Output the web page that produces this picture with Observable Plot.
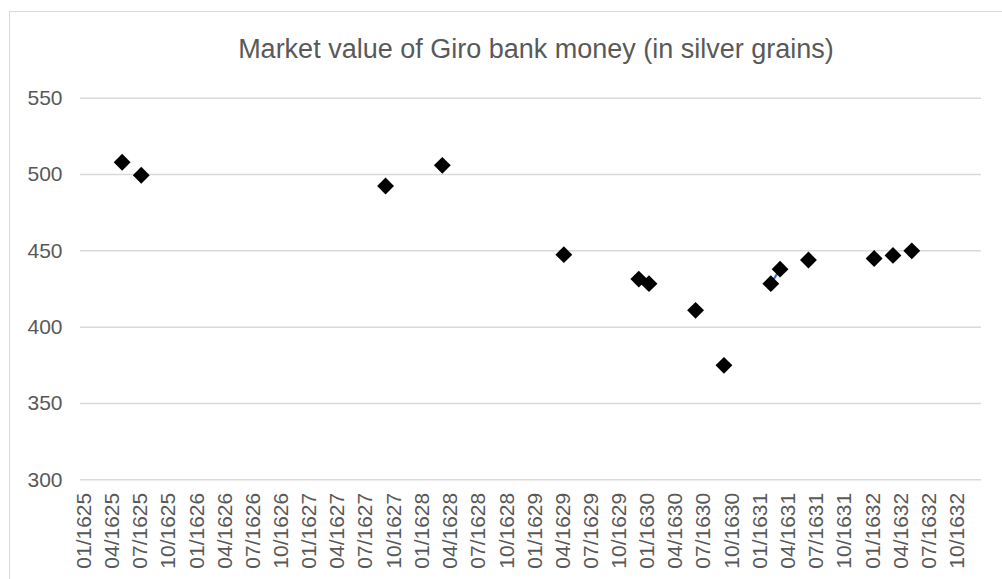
<!DOCTYPE html>
<html><head><meta charset="utf-8">
<script src="https://cdn.jsdelivr.net/npm/d3@7"></script>
<script src="https://cdn.jsdelivr.net/npm/@observablehq/plot@0.6"></script>
<style>
body{margin:0;background:#fff;font-family:"Liberation Sans",Arial,sans-serif;}
#wrap{position:relative;width:1002px;height:579px;overflow:hidden;background:#fff;}
#frame{position:absolute;left:9px;top:11px;width:1100px;height:700px;border:1.5px solid #d9d9d9;box-sizing:border-box;pointer-events:none;}
#title{box-sizing:border-box;width:1002px;height:80px;padding-top:34px;padding-left:70px;text-align:center;font-size:27px;line-height:30px;color:#595959;white-space:nowrap;}
#chart svg{display:block;}
</style>
</head><body>
<div id="wrap"><div id="frame"></div><div id="title"></div><div id="chart"></div></div>
<script>
const title = "Market value of Giro bank money (in silver grains)";
const dates = ["1625-05-03","1625-07-04","1627-09-04","1628-03-06","1629-04-04","1629-12-03","1630-01-05","1630-06-05","1630-09-05","1631-02-04","1631-03-06","1631-06-06","1632-01-05","1632-03-06","1632-05-06"];
const values = [508, 499.5, 492.5, 506, 447.5, 431.5, 428.5, 411, 375, 428.5, 438, 444, 445, 447, 450];
const linked = [false,false,false,false,false,false,false,false,false,true,true,false,false,false,false];
const yTicks = [300, 350, 400, 450, 500, 550];
const xStart = "1624-12-19", xEnd = "1632-12-18";
const tickFirst = "1625-01-01", tickLast = "1633-01-01";

document.getElementById("title").textContent = title;
const data = dates.map((d, i) => ({date: new Date(d), value: values[i], linked: linked[i]}));
const xTicks = d3.utcMonth.every(3).range(new Date(tickFirst), new Date(tickLast));

const chart = Plot.plot({
  width: 1002,
  height: 499,
  marginLeft: 80,
  marginRight: 21,
  marginTop: 17.7,
  marginBottom: 99.7,
  style: {fontFamily: '"Liberation Sans", Arial, sans-serif', background: "transparent"},
  x: {type: "utc", domain: [new Date(xStart), new Date(xEnd)]},
  y: {domain: [300, 550]},
  marks: [
    Plot.ruleY(yTicks, {stroke: "#d9d9d9", strokeWidth: 1.5}),
    Plot.axisY({ticks: yTicks, tickSize: 0, tickPadding: 18, fontSize: 21, color: "#595959", label: null}),
    Plot.axisX({ticks: xTicks, tickFormat: d3.utcFormat("%m/%Y"), tickRotate: -90, tickSize: 0, tickPadding: 13, fontSize: 21, color: "#595959", label: null}),
    Plot.line(data.filter(d => d.linked), {x: "date", y: "value", stroke: "#4472C4", strokeWidth: 2.25}),
    Plot.dot(data, {x: "date", y: "value", symbol: "diamond2", r: 7.6, fill: "#000", stroke: "none"})
  ]
});
document.getElementById("chart").appendChild(chart);
</script>
</body></html>
